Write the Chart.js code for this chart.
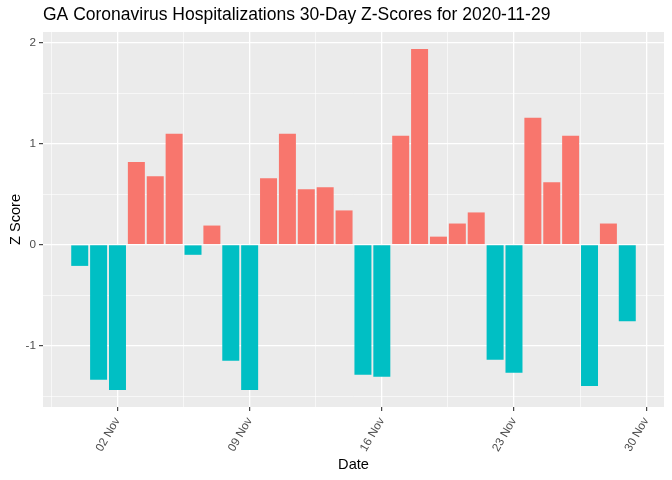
<!DOCTYPE html>
<html lang="en">
<head>
<meta charset="UTF-8">
<title>GA Coronavirus Hospitalizations Z-Scores</title>
<script src="https://cdn.jsdelivr.net/npm/chart.js"></script>
<style>
  html, body { margin: 0; padding: 0; background: #fff; }
  #wrap { width: 672px; height: 480px; }
</style>
</head>
<body>
<div id="wrap"><canvas id="chart" width="672" height="480"></canvas></div>
<script>
// data
const dates = [
  '2020-10-31', '2020-11-01', '2020-11-02', '2020-11-03', '2020-11-04',
  '2020-11-05', '2020-11-06', '2020-11-07', '2020-11-08', '2020-11-09',
  '2020-11-10', '2020-11-11', '2020-11-12', '2020-11-13', '2020-11-14',
  '2020-11-15', '2020-11-16', '2020-11-17', '2020-11-18', '2020-11-19',
  '2020-11-20', '2020-11-21', '2020-11-22', '2020-11-23', '2020-11-24',
  '2020-11-25', '2020-11-26', '2020-11-27', '2020-11-28', '2020-11-29'
];
const zScores = [
  -0.21, -1.34, -1.44, 0.82, 0.68,
  1.10, -0.10, 0.19, -1.15, -1.44,
  0.66, 1.10, 0.55, 0.57, 0.34,
  -1.29, -1.31, 1.08, 1.94, 0.08,
  0.21, 0.32, -1.14, -1.27, 1.26,
  0.62, 1.08, -1.40, 0.21, -0.76
];
const xTickDates = ['2020-11-02', '2020-11-09', '2020-11-16', '2020-11-23', '2020-11-30'];
const xTickLabels = ['02 Nov', '09 Nov', '16 Nov', '23 Nov', '30 Nov'];
const yTicks = [-1, 0, 1, 2];

const POS = '#F8766D';
const NEG = '#00BFC4';

const day = s => Date.parse(s + 'T00:00:00Z') / 86400000;
const xDays = dates.map(day);
const xMajor = xTickDates.map(day);
// minor gridlines halfway between the majors (ggplot style)
const xMinor = [xMajor[0] - 3.5].concat(xMajor.slice(0, -1).map(v => v + 3.5));
const yMinor = [-1.5, -0.5, 0.5, 1.5];

// ggplot default expansion: 5% either side
const xLo = xDays[0] - 0.45, xHi = xDays[xDays.length - 1] + 0.45;
const xPad = (xHi - xLo) * 0.05;
const yLo = Math.min(0, ...zScores), yHi = Math.max(0, ...zScores);
const yPad = (yHi - yLo) * 0.05;

const panelBg = {
  id: 'panelBg',
  beforeDraw(chart) {
    const a = chart.chartArea, c = chart.ctx;
    c.save();
    c.fillStyle = '#EBEBEB';
    c.fillRect(a.left, a.top, a.right - a.left, a.bottom - a.top);
    c.restore();
  }
};

const near = (list, v) => list.some(m => Math.abs(m - v) < 1e-6);
const tickVal = ctx => (ctx.tick ? ctx.tick.value : NaN);

new Chart(document.getElementById('chart'), {
  type: 'bar',
  data: {
    datasets: [{
      data: xDays.map((x, i) => ({ x: x, y: zScores[i] })),
      backgroundColor: ctx => (ctx.raw && ctx.raw.y >= 0 ? POS : NEG),
      borderWidth: 0,
      categoryPercentage: 1.0,
      barPercentage: 0.9
    }]
  },
  plugins: [panelBg],
  options: {
    responsive: false,
    animation: false,
    layout: { padding: { left: 0, right: 8, top: 0, bottom: 0 } },
    plugins: {
      legend: { display: false },
      tooltip: { enabled: false },
      title: {
        display: true,
        text: 'GA Coronavirus Hospitalizations 30-Day Z-Scores for 2020-11-29',
        align: 'start',
        fullSize: false,
        color: '#000',
        font: { family: 'Liberation Sans', size: 17.5, weight: 'normal' },
        padding: { top: 5, bottom: 6 }
      }
    },
    scales: {
      x: {
        type: 'linear',
        offset: false,
        min: xLo - xPad,
        max: xHi + xPad,
        afterBuildTicks: s => {
          s.ticks = xMinor.concat(xMajor).sort((a, b) => a - b).map(v => ({ value: v }));
        },
        afterFit: s => { s.height = 73; },
        border: { display: false },
        grid: {
          offset: false,
          color: '#FFFFFF',
          lineWidth: ctx => (near(xMajor, tickVal(ctx)) ? 1.3 : 0.6),
          tickColor: ctx => (near(xMajor, tickVal(ctx)) ? '#333333' : 'rgba(0,0,0,0)'),
          tickWidth: 1.1,
          tickLength: 4
        },
        ticks: {
          autoSkip: false,
          minRotation: 60,
          maxRotation: 60,
          padding: 4,
          color: '#4D4D4D',
          font: { family: 'Liberation Sans', size: 11.7 },
          callback: v => {
            const i = xMajor.findIndex(m => Math.abs(m - v) < 1e-6);
            return i >= 0 ? xTickLabels[i] : '';
          }
        },
        title: {
          display: true,
          text: 'Date',
          color: '#000',
          font: { family: 'Liberation Sans', size: 14.6 },
          padding: { top: 0, bottom: 6 }
        }
      },
      y: {
        min: yLo - yPad,
        max: yHi + yPad,
        afterBuildTicks: s => {
          s.ticks = yMinor.concat(yTicks).sort((a, b) => a - b).map(v => ({ value: v }));
        },
        afterFit: s => { s.width = 43; },
        border: { display: false },
        grid: {
          color: '#FFFFFF',
          lineWidth: ctx => (near(yTicks, tickVal(ctx)) ? 1.3 : 0.6),
          tickColor: ctx => (near(yTicks, tickVal(ctx)) ? '#333333' : 'rgba(0,0,0,0)'),
          tickWidth: 1.1,
          tickLength: 4
        },
        ticks: {
          padding: 3,
          color: '#4D4D4D',
          font: { family: 'Liberation Sans', size: 11.7 },
          callback: v => (near(yTicks, v) ? String(v) : '')
        },
        title: {
          display: true,
          text: 'Z Score',
          color: '#000',
          font: { family: 'Liberation Sans', size: 14.6 },
          padding: { top: 7, bottom: 0 }
        }
      }
    }
  }
});
</script>
</body>
</html>
